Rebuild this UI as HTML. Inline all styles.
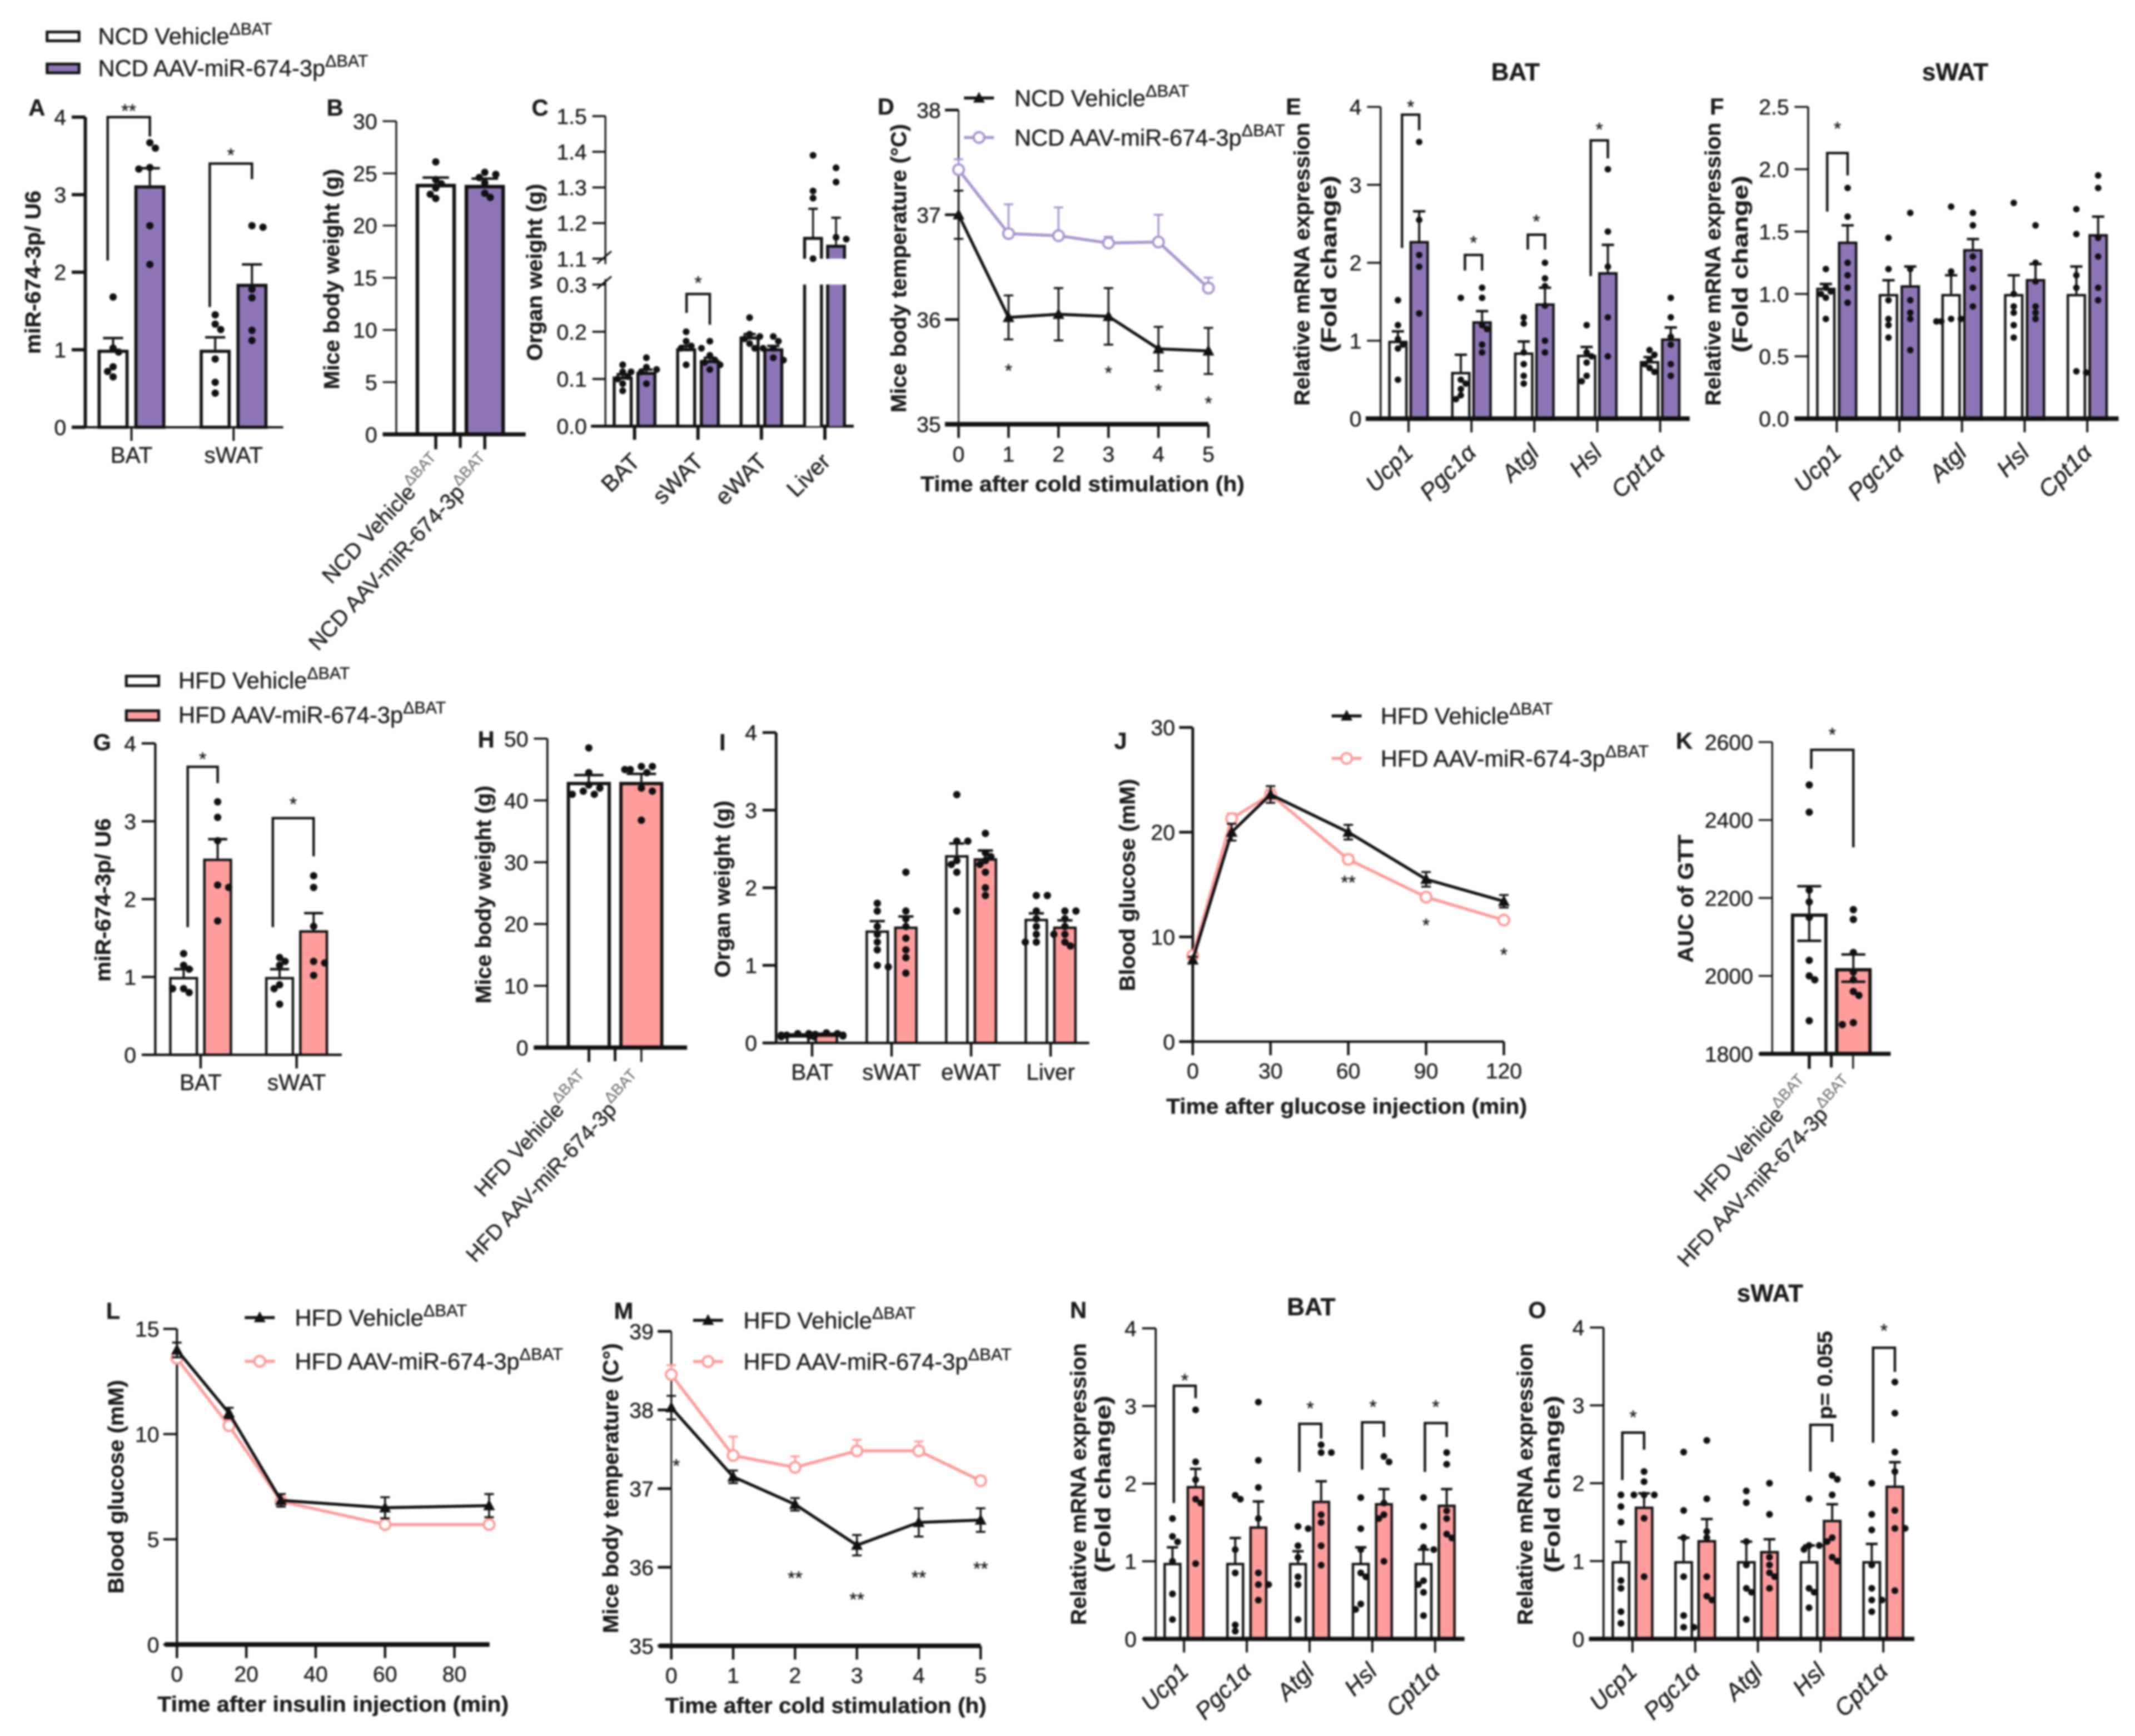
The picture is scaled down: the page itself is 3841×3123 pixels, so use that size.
<!DOCTYPE html>
<html lang="en">
<head>
<meta charset="utf-8">
<title>miR-674-3p BAT figure</title>
<style>
html,body{margin:0;padding:0;background:#fff;}
svg{display:block;filter:blur(1.6px);}
text{font-family:"Liberation Sans",Arial,sans-serif;fill:#1c1c1c;stroke:#1c1c1c;stroke-width:.18px;}
</style>
</head>
<body>
<svg id="fig" xmlns="http://www.w3.org/2000/svg" width="3841" height="3123" viewBox="0 0 1568 1275"></svg>
<script>
/* ---------- DATA ---------- */
const organs2 = ['BAT','sWAT'];
const organs4 = ['BAT','sWAT','eWAT','Liver'];
const genes = ['Ucp1','Pgc1α','Atgl','Hsl','Cpt1α'];
const oneGroup = [''];

/* A */
const aTicks=[0,1,2,3,4];
const aVehMeans=[1,1];const aVehErr=[.15,.16];
const aAavMeans=[3.12,1.85];const aAavErr=[.22,.25];
const aVehPts=[[1.68,1.02,.78,.72,.65,.97],[1.45,1.33,1.26,.88,.58,.44]];
const aAavPts=[[3.67,3.6,3.35,3.33,2.6,2.1],[2.6,2.58,1.78,1.67,1.25,1.12]];
const aBrackets=[[0,4,2.15,3.75,'**',4.12],[1,3.4,1.55,3.2,'*',3.55]];
/* B */
const bTicks=[0,5,10,15,20,25,30];
const bVehMeans=[24];const bVehErr=[.6];const bAavMeans=[23.9];const bAavErr=[.6];
const bVehPts=[[26.1,24.4,24,23.6,23,22.6]];
const bAavPts=[[25.1,24.9,24.6,24.1,23.1,22.7]];
/* C */
const cTicks=[0,.1,.2,.3,1.1,1.2,1.3,1.4,1.5];
const cVehMeans=[.105,.165,.19,1.157];const cVehErr=[.005,.005,.005,.083];
const cAavMeans=[.115,.14,.165,1.135];const cAavErr=[.005,.005,.005,.08];
const cVehPts=[[.13,.115,.105,.1,.09,.075],[.2,.18,.17,.165,.165,.13],[.23,.195,.19,.185,.175,.165]];
const cAavPts=[[.145,.125,.12,.115,.115,.09],[.18,.15,.14,.135,.13,.12],[.19,.18,.165,.165,.145,.14]];
const cLiverVehPts=[1.39,1.29,1.27,1.1];
const cLiverAavPts=[1.355,1.315,1.16,1.155];
const cBrackets=[[1,.28,.24,.215,'*',.31]];
/* D */
const dTicksY=[35,36,37,38];const dTime=[0,1,2,3,4,5];
const dVehMeans=[37,36.02,36.05,36.03,35.72,35.7];const dVehErr=[.23,.21,.25,.27,.21,.22];
const dAavMeans=[37.43,36.82,36.8,36.73,36.74,36.3];const dAavErr=[.1,.28,.27,.06,.26,.1];
const dStarTimes=[1,3,4,5];const dStarVals=[35.54,35.52,35.35,35.23];const dStarText=['*','*','*','*'];
/* E */
const eTicks=[0,1,2,3,4];
const eVehMeans=[1,.6,.85,.82,.74];const eVehErr=[.12,.22,.14,.1,.05];
const eAavMeans=[2.28,1.25,1.48,1.88,1.03];const eAavErr=[.38,.13,.2,.35,.14];
const eVehPts=[[1.52,1.2,1.02,.95,.9,.5],[1.55,.5,.45,.38,.3,.25],[1.3,1.22,.85,.7,.55,.45],[1.2,.85,.8,.72,.55,.48],[.88,.82,.75,.7,.65,.6]];
const eAavPts=[[3.55,2.55,2.1,1.95,1.35],[1.68,1.55,1.2,1.15,.95,.85],[2,1.8,1.7,1.45,1,.85],[3.2,2.4,1.95,1.3,.8],[1.55,1.3,1.05,.95,.7,.55]];
const eBrackets=[[0,3.9,2.19,3.7,'*',4.04],[1,2.1,1.9,1.9,'*',2.3],[2,2.36,2.17,2.17,'*',2.57],[3,3.57,1.83,3.34,'*',3.75]];
/* F */
const fTicks=[0,.5,1,1.5,2,2.5];
const fVehMeans=[1.05,1,1,1,1];const fVehErr=[.03,.11,.15,.15,.22];
const fAavMeans=[1.42,1.07,1.36,1.12,1.48];const fAavErr=[.13,.15,.08,.12,.14];
const fVehPts=[[1.2,1.05,1.02,1,.97,.8],[1.45,1.2,.95,.8,.75,.65],[1.7,1.18,.8,.78,.8,.78],[1.73,1,.9,.85,.75,.65],[1.68,1.48,1.15,1.05,.38,.37]];
const fAavPts=[[1.85,1.62,1.25,1.15,1.05,.93],[1.65,1.2,.95,.85,.8,.55],[1.65,1.55,1.3,1.2,1.05,.9],[1.55,1.25,1.1,.9,.85,.8],[1.95,1.85,1.45,1.3,1.05,.95]];
const fBrackets=[[0,2.13,1.66,1.95,'*',2.35]];
/* G */
const gTicks=[0,1,2,3,4];
const gVehMeans=[1,1];const gVehErr=[.1,.1];const gAavMeans=[2.52,1.6];const gAavErr=[.25,.22];
const gVehPts=[[1.3,1.15,1.1,.85,.85,.8],[1.25,1.2,1.15,.9,.85,.65]];
const gAavPts=[[3.25,3.05,2.75,2.18,2.15,1.72],[2.3,2.15,1.65,1.2,1.18,1.02]];
const gBrackets=[[0,3.7,1.64,3.49,'*',3.84,-3],[1,3.04,1.64,2.55,'*',3.26,5]];
/* H */
const hTicks=[0,10,20,30,40,50];
const hVehMeans=[43];const hVehErr=[1.1];const hAavMeans=[43];const hAavErr=[1.3];
const hVehPts=[[48.5,44.5,42.5,42,41.5,41,41]];
const hAavPts=[[45.5,45.5,45,45,44.5,42,41.5,36.8]];
/* I */
const iTicks=[0,1,2,3,4];
const iVehMeans=[.1,1.45,2.42,1.6];const iVehErr=[.01,.12,.15,.07];
const iAavMeans=[.11,1.5,2.38,1.5];const iAavErr=[.01,.13,.1,.08];
const iVehPts=[[.12,.1,.1,.09,.08,.08,.12],[1.8,1.7,1.5,1.4,1.3,1.2,1,.98],[3.2,2.6,2.6,2.35,2.3,2.2,1.7],[1.9,1.9,1.7,1.6,1.5,1.4,1.3,1.3]];
const iAavPts=[[.13,.11,.11,.1,.09,.09,.12],[2.2,1.7,1.6,1.5,1.35,1.2,1.1,.9],[2.7,2.45,2.4,2.35,2.3,2.2,2,1.9],[1.7,1.7,1.6,1.5,1.4,1.4,1.3,1.25]];
/* J */
const jTicksY=[0,10,20,30];const jTicksX=[0,30,60,90,120];const jTime=[0,15,30,60,90,120];
const jVehMeans=[7.8,20,23.6,20,15.5,13.4];const jVehErr=[.3,.8,.8,.7,.7,.6];
const jAavMeans=[8.2,21.3,23.6,17.4,13.8,11.6];const jAavErr=[.3,.5,.5,.4,.3,.3];
const jStarTimes=[60,90,120];const jStarVals=[15.5,11.4,8.6];const jStarText=['**','*','*'];
/* K */
const kTicks=[1800,2000,2200,2400,2600];
const kVehMeans=[2160];const kVehErr=[70];const kAavMeans=[2020];const kAavErr=[35];
const kVehPts=[[2490,2420,2220,2190,2150,2040,2000,1990,1885]];
const kAavPts=[[2170,2145,2060,2010,1990,1960,1950,1880,1875]];
const kBrackets=[[0,2580,2531,2330,'*',2627]];
/* L */
const lTicksY=[0,5,10,15];const lTicksX=[0,20,40,60,80];const lTime=[0,15,30,60,90];
const lVehMeans=[14,11,6.85,6.5,6.6];const lVehErr=[.35,.25,.3,.5,.55];
const lAavMeans=[13.6,10.4,6.8,5.7,5.7];const lAavErr=[.2,.15,.2,.1,.1];
/* M */
const mTicksY=[35,36,37,38,39];const mTime=[0,1,2,3,4,5];
const mVehMeans=[38.03,37.15,36.8,36.28,36.57,36.6];const mVehErr=[.15,.08,.08,.13,.18,.15];
const mAavMeans=[38.45,37.42,37.27,37.48,37.48,37.1];const mAavErr=[.12,.24,.14,.14,.12,.05];
const mStarTimes=[.08,2,3,4,5];const mStarVals=[37.33,35.9,35.63,35.91,36.02];const mStarText=['*','**','**','**','**'];
/* N */
const nTicks=[0,1,2,3,4];
const nVehMeans=[.98,.98,.98,.98,.98];const nVehErr=[.2,.32,.15,.2,.17];
const nAavMeans=[1.97,1.45,1.78,1.75,1.73];const nAavErr=[.22,.32,.25,.18,.2];
const nVehPts=[[1.55,1.32,1.25,1,.58,.25],[1.85,1.8,1.15,.85,.18,.1],[1.45,1.42,1.2,1.05,.8,.7,.25],[1.82,1.42,1.15,.85,.8,.45,.38],[1.82,1.45,1.18,1.15,.75,.7,.6,.3]];
const nAavPts=[[2.95,2.28,2.05,1.8,1.75,.97],[3.05,2.3,1.95,1.55,.85,.7,.7,.5],[2.5,2.4,2.4,1.6,1.5,1.2,.95],[2.35,2.28,1.75,1.6,1.55,1],[2.4,2.25,1.65,1.55,1.35,1.3]];
const nBrackets=[[0,3.26,1.75,3.1,'*',3.37],[2,2.77,2.15,2.58,'*',3.01],[3,2.79,2.18,2.6,'*',3.03],[4,2.78,2.15,2.6,'*',3.03]];
/* O */
const oTicks=[0,1,2,3,4];
const oVehMeans=[1,1,1,1,1];const oVehErr=[.25,.3,.25,.2,.22];
const oAavMeans=[1.7,1.27,1.13,1.53,1.97];const oAavErr=[.17,.27,.15,.2,.3];
const oVehPts=[[1.85,1.7,1.5,.75,.65,.35,.2],[2.4,1.65,1.3,.8,.3,.15,.15],[1.9,1.75,1.25,.95,.65,.6,.25],[1.8,1.2,1.2,1.15,.65,.6,.4],[2,1.6,1.4,.95,.65,.5,.5,.35]];
const oAavPts=[[2.15,2.02,1.85,1.85,1.85,1.55,.8],[2.55,1.8,1.38,1.3,.8,.55,.5],[2,1.6,1.05,.95,.85,.8,.65],[2.1,2.05,1.85,1.3,1.25,1.05,1],[3.3,2.9,2.4,2.15,1.65,1.42,1.42,.62]];
const oBrackets=[[0,2.65,2.04,2.43,'*',2.89],[3,2.75,2.15,2.53,'',0],[4,3.74,2.52,3.43,'*',4]];

/* ---------- HELPERS ---------- */
const NS='http://www.w3.org/2000/svg';
const fig=document.getElementById('fig');
const INK='#111';
const PURPLE='#8e75b7',PURPLE_LINE='#a896cf',PINK='#ff9d9d',PINK_LINE='#f99';

function mk(tag,attrs,parent,name){
  const node=document.createElementNS(NS,tag);
  for(const k in attrs)node.setAttribute(k,attrs[k]);
  
  
  parent.appendChild(node);
  return node;
}
function line(p,x1,y1,x2,y2,w,name,color){
  return mk('line',{x1,y1,x2,y2,stroke:color||INK,'stroke-width':w},p,name);
}
function txt(p,x,y,s,o,name){
  o=o||{};
  const a={x,y,'font-size':o.size||16,'text-anchor':o.anchor||'start'};
  if(o.bold)a['font-weight']='bold';
  if(o.italic)a['font-style']='italic';
  if(o.rotate!==undefined)a.transform='rotate('+o.rotate+' '+x+' '+y+')';
  if(o.len){a.textLength=o.len;a.lengthAdjust='spacingAndGlyphs';}
  const t=mk('text',a,p,name);
  t.appendChild(document.createTextNode(s));
  if(o.sup){
    const u=document.createElementNS(NS,'tspan');
    u.setAttribute('dy',o.supDy||-6);
    u.setAttribute('font-size',o.supSize||12.2);
    if(o.supColor){u.setAttribute('fill',o.supColor);u.setAttribute('stroke','none');}
    u.textContent=o.sup;
    t.appendChild(u);
  }
  return t;
}
function linScale(d0,d1,p0,p1){return v=>p0+(v-d0)*(p1-p0)/(d1-d0);}
function slug(s){return String(s).toLowerCase().replace(/[^a-z0-9]+/g,'-').replace(/(^-|-$)/g,'')||'group';}
function swarm(vals,y,r){
  const placed=[],out=[];
  const sorted=vals.slice().sort((a,b)=>b-a);
  let side=1;
  sorted.forEach(v=>{
    const py=y(v);
    const step=r*1.5;
    const cands=[0,side*step,-side*step,side*2*step,-side*2*step,side*3*step,-side*3*step];
    let off=cands[cands.length-1];
    for(const c of cands){
      if(placed.every(q=>Math.hypot(q.x-c,q.y-py)>=r*1.75)){off=c;break;}
    }
    if(off!==0)side=-side;
    placed.push({x:off,y:py});
    out.push({v,off,py});
  });
  return out;
}
function yAxis(g,c,y){
  line(g,c.axisX,y(c.ticks[0]),c.axisX,y(c.ticks[c.ticks.length-1]),c.yW,'y-axis-line');
  c.ticks.forEach(t=>{
    line(g,c.axisX-(c.tickLen||10),y(t),c.axisX,y(t),c.yTickW||c.yW,'y-axis-tick');
    txt(g,c.axisX-(c.labGap||14),y(t)+5.7,t.toFixed(c.dec||0),{anchor:'end',size:16},'y-tick-label');
  });
}
function star(g,x,py,s,name){txt(g,x,py+7,s,{anchor:'middle',size:14},name);}
function axisTitles(g,c){
  (c.yTitles||[]).forEach(t=>txt(g,t[0],t[1],t[2],{bold:true,anchor:'middle',rotate:-90,len:t[3],size:16},'y-axis-title'));
  if(c.xTitle)txt(g,c.xTitle[0],c.xTitle[1],c.xTitle[2],{bold:true,anchor:'middle',len:c.xTitle[3],size:16},'x-axis-title');
  if(c.letter)txt(g,c.letter[0],c.letter[1],c.letter[2],{bold:true,anchor:'middle',size:17},'panel-letter');
  if(c.heading)txt(g,c.heading[0],c.heading[1],c.heading[2],{bold:true,anchor:'middle',size:18},'panel-heading');
}

/* ---------- BAR PANEL ---------- */
function barPanel(c){
  const g=mk('g',{},fig,'panel-'+c.id);
  const y=c.scale||linScale(c.ticks[0],c.ticks[c.ticks.length-1],c.yBottom,c.yTop);
  const cx=i=>c.cx0+i*c.gap;
  if(c.customAxis)c.customAxis(g,y);else yAxis(g,c,y);
  const r=c.r||2.7;
  function bar(i,which){
    const isV=which==='vehicle';
    const means=isV?c.vMeans:c.aMeans,errs=isV?c.vErr:c.aErr,pts=isV?c.vPts:c.aPts;
    const x=cx(i)+(isV?-c.off:c.off);
    const fill=isV?'#fff':c.fill;
    const tag=c.id+'-'+slug(c.cats[i])+'-'+which;
    const base=y(c.ticks[0]);
    const sw=c.barW||2.3;
    const m=means[i],e=errs[i];
    const top=y(m)+sw/2;
    mk('rect',{x:x-c.w/2,y:top,width:c.w,height:base-top,fill,stroke:INK,'stroke-width':sw},g,'bar-'+tag);
    const capW=c.capW||c.w*0.36;
    const eUp=y(m+e),eDn=y(m-e);
    line(g,x,y(m),x,eUp,1.6,'error-bar-'+tag);
    line(g,x-capW,eUp,x+capW,eUp,1.8,'error-cap-'+tag);
    if(c.bothErr){
      line(g,x,y(m),x,eDn,1.6,'error-bar-'+tag);
      line(g,x-capW,eDn,x+capW,eDn,1.8,'error-cap-'+tag);
    }
    swarm(pts[i],y,r).forEach(p=>{
      mk('circle',{cx:x+p.off,cy:p.py,r,fill:INK},g,'data-point-'+tag);
    });
  }
  c.cats.forEach((n,i)=>{bar(i,'vehicle');bar(i,'aav');});
  /* x axis */
  line(g,c.xStart,c.yBottom,c.xEnd,c.yBottom,c.xW,'x-axis-line');
  c.cats.forEach((n,i)=>{
    line(g,cx(i),c.yBottom,cx(i),c.yBottom+(c.xTickLen||10),c.xTickW||2,'x-axis-tick');
    if(c.labels==='flat')txt(g,cx(i),c.yBottom+(c.labDy||27),n,{anchor:'middle',size:c.labSize||16.5},'x-tick-label');
    if(c.labels==='rot')txt(g,cx(i)+(c.rotDx||5),c.yBottom+(c.rotDy||26),n,{anchor:'end',size:c.labSize||17.5,italic:c.italic,rotate:c.rotA||-45},'x-tick-label');
    if(c.labels==='group'){
      c.groupLabels.forEach((nm,k)=>{
        const px=c.cx0+(k===0?-c.off:c.off);
        txt(g,px+c.rotDx,c.yBottom+c.rotDy,nm,{anchor:'end',size:c.labSize||15.8,rotate:-47,sup:'ΔBAT',supColor:'#666',supSize:11.5,supDy:-7},'x-tick-label');
      });
    }
  });
  if(c.labels==='group'&&c.groupTicks)c.groupTicks(g);
  /* brackets: [category, top value, left leg bottom, right leg bottom, label, label value, optional left inset] */
  (c.brackets||[]).forEach(b=>{
    const inset=b[6]!==undefined?b[6]:(c.brL===undefined?3:c.brL);
    const xl=cx(b[0])-c.off-inset;
    const xr=cx(b[0])+c.off;
    mk('path',{d:'M'+xl+' '+y(b[2])+'V'+y(b[1])+'H'+xr+'V'+y(b[3]),fill:'none',stroke:INK,'stroke-width':c.brW||1.8},g,'significance-bracket');
    if(b[4])star(g,(xl+xr)/2,y(b[5]),b[4],'significance-star');
  });
  axisTitles(g,c);
  return g;
}

/* ---------- LINE PANEL ---------- */
function linePanel(c){
  const g=mk('g',{},fig,'panel-'+c.id);
  const y=linScale(c.ticks[0],c.ticks[c.ticks.length-1],c.yBottom,c.yTop);
  const x=linScale(c.xD0,c.xD1,c.axisX,c.xP1);
  yAxis(g,c,y);
  line(g,c.xStart,c.yBottom,c.xEnd,c.yBottom,c.xW,'x-axis-line');
  c.xTicks.forEach(t=>{
    line(g,x(t),c.yBottom,x(t),c.yBottom+10,c.xTickW||1.8,'x-axis-tick');
    txt(g,x(t),c.xLabY,String(t),{anchor:'middle',size:16},'x-tick-label');
  });
  function series(means,errs,color,name,both,isTri){
    const pts=c.time.map((t,i)=>x(t)+','+y(means[i])).join(' ');
    c.time.forEach((t,i)=>{
      const px=x(t),up=y(means[i]+errs[i]),dn=y(means[i]-errs[i]);
      line(g,px,both?dn:y(means[i]),px,up,1.4,'error-bar-'+name,color);
      line(g,px-3.5,up,px+3.5,up,1.4,'error-cap-'+name,color);
      if(both)line(g,px-3.5,dn,px+3.5,dn,1.4,'error-cap-'+name,color);
    });
    mk('polyline',{points:pts,fill:'none',stroke:color,'stroke-width':2.2,'stroke-linejoin':'round'},g,'line-'+name);
    c.time.forEach((t,i)=>{
      const px=x(t),py=y(means[i]);
      if(isTri)mk('path',{d:'M'+px+' '+(py-4.6)+'L'+(px+4.3)+' '+(py+3.4)+'H'+(px-4.3)+'Z',fill:color},g,'marker-'+name);
      else mk('circle',{cx:px,cy:py,r:3.9,fill:'#fff',stroke:color,'stroke-width':1.7},g,'marker-'+name);
    });
  }
  series(c.aMeans,c.aErr,c.aColor,'aav',c.aBoth,false);
  series(c.vMeans,c.vErr,INK,'vehicle',true,true);
  (c.starT||[]).forEach((t,i)=>star(g,x(t),y(c.starV[i]),c.starS[i],'significance-star'));
  /* legend */
  const L=c.legend;
  const lg=mk('g',{},g,'legend');
  line(lg,L.x-11,L.y1,L.x+11,L.y1,2.2,'legend-line-vehicle');
  mk('path',{d:'M'+L.x+' '+(L.y1-4.6)+'L'+(L.x+4.3)+' '+(L.y1+3.4)+'H'+(L.x-4.3)+'Z',fill:INK},lg,'legend-marker-vehicle');
  txt(lg,L.tx,L.y1+6,c.names[0],{size:17,sup:'ΔBAT',supSize:12.6,supDy:-7},'legend-label-vehicle');
  line(lg,L.x-11,L.y2,L.x+11,L.y2,2.2,'legend-line-aav',c.aColor);
  mk('circle',{cx:L.x,cy:L.y2,r:3.9,fill:'#fff',stroke:c.aColor,'stroke-width':1.7},lg,'legend-marker-aav');
  txt(lg,L.tx,L.y2+6,c.names[1],{size:17,sup:'ΔBAT',supSize:12.6,supDy:-7},'legend-label-aav');
  axisTitles(g,c);
}

function boxLegend(x1,x2,tx,y1,y2,h,names,fill,id){
  const g=mk('g',{},fig,'legend-'+id);
  mk('rect',{x:x1,y:y1,width:x2-x1,height:h,fill:'#fff',stroke:INK,'stroke-width':2},g,'legend-swatch-vehicle');
  mk('rect',{x:x1,y:y2,width:x2-x1,height:h,fill,stroke:INK,'stroke-width':2},g,'legend-swatch-aav');
  txt(g,tx,y1+9,names[0],{size:17,sup:'ΔBAT',supSize:12.4,supDy:-7},'legend-label-vehicle');
  txt(g,tx,y2+9,names[1],{size:17,sup:'ΔBAT',supSize:12.4,supDy:-7},'legend-label-aav');
}

/* ---------- LEGENDS ---------- */
boxLegend(34.5,58,72,23.5,47,6.5,['NCD Vehicle','NCD AAV-miR-674-3p'],PURPLE,'ncd');
boxLegend(92.7,116.5,131,496.6,522,7,['HFD Vehicle','HFD AAV-miR-674-3p'],PINK,'hfd');

/* ---------- PANELS ---------- */
barPanel({id:'a',axisX:62.6,yBottom:313.8,yTop:86,ticks:aTicks,xStart:53,xEnd:208,xW:1.6,yW:2.4,xTickW:1.6,cats:organs2,cx0:96.5,gap:75,off:13.5,w:20.5,fill:PURPLE,
  vMeans:aVehMeans,vErr:aVehErr,aMeans:aAavMeans,aErr:aAavErr,vPts:aVehPts,aPts:aAavPts,brackets:aBrackets,brW:1.8,brL:4,labels:'flat',labDy:26,
  yTitles:[[29.5,200,'miR-674-3p/ U6',120]],letter:[27,85,'A']});
barPanel({id:'b',axisX:291,yBottom:319,yTop:89,ticks:bTicks,xStart:281,xEnd:386,xW:3,yW:1.3,xTickW:2.2,cats:oneGroup,cx0:338,gap:0,off:18,w:27,fill:PURPLE,
  vMeans:bVehMeans,vErr:bVehErr,aMeans:bAavMeans,aErr:bAavErr,vPts:bVehPts,aPts:bAavPts,barW:2.6,bothErr:false,labels:'group',groupLabels:['NCD Vehicle','NCD AAV-miR-674-3p'],rotDx:6,rotDy:22,labSize:16.2,xTickLen:0,
  groupTicks:g=>{line(g,320,319,320,330,2.2,'x-axis-tick');line(g,356,319,356,330,2.2,'x-axis-tick');},
  yTitles:[[249,205,'Mice body weight (g)',162]],letter:[246,85,'B']});
const cUpper=linScale(1.1,1.5,190,85.3),cLower=linScale(0,.3,313,209);
barPanel({id:'c',axisX:444.6,yBottom:313,yTop:85.3,ticks:cTicks,scale:v=>v>.7?cUpper(v):cLower(v),dec:1,xStart:434,xEnd:627,xW:2.2,yW:1.3,xTickW:2.4,cats:organs4.slice(0,3),cx0:466,gap:46.6,off:8.7,w:12.5,fill:PURPLE,r:2.5,
  vMeans:cVehMeans,vErr:cVehErr,aMeans:cAavMeans,aErr:cAavErr,vPts:cVehPts,aPts:cAavPts,brackets:cBrackets,brW:1.8,brL:-.3,barW:2.2,labels:'rot',rotDx:5,rotDy:27,labSize:17,
  customAxis:(g,y)=>{
    line(g,444.6,313,444.6,205,1.3,'y-axis-line');
    line(g,444.6,194,444.6,85.3,1.3,'y-axis-line');
    line(g,438.5,193.5,449,184.5,1.3,'axis-break-mark');
    line(g,438.5,212,449,203,1.3,'axis-break-mark');
    cTicks.forEach(t=>{
      line(g,435,y(t),444.6,y(t),1.5,'y-axis-tick');
      txt(g,431,y(t)+5.7,t.toFixed(1),{anchor:'end',size:16},'y-tick-label');
    });
  },
  yTitles:[[398,200,'Organ weight (g)',130]],letter:[396.6,85,'C']});
/* Liver group of C sits across the axis break */
(function(){
  const g=mk('g',{},fig,'panel-c-liver');
  const y=v=>v>.7?cUpper(v):cLower(v);
  const cx=605.8;
  [[-8.7,'#fff',cVehMeans[3],cVehErr[3],cLiverVehPts,'vehicle'],[8.2,PURPLE,cAavMeans[3],cAavErr[3],cLiverAavPts,'aav']].forEach(s=>{
    const x=cx+s[0],w=6.2;
    mk('rect',{x:x-w,y:209,width:w*2,height:104,fill:s[1]},g,'bar-c-liver-lower-'+s[5]);
    mk('path',{d:'M'+(x-w)+' 313V209M'+(x+w)+' 313V209',stroke:INK,'stroke-width':2.2,fill:'none'},g,'bar-c-liver-lower-edges-'+s[5]);
    mk('path',{d:'M'+(x-w)+' 190V'+y(s[2])+'H'+(x+w)+'V190',stroke:INK,'stroke-width':2.2,fill:s[1]},g,'bar-c-liver-upper-'+s[5]);
    line(g,x,y(s[2]),x,y(s[2]+s[3]),1.4,'error-bar-c-liver-'+s[5]);
    line(g,x-3.5,y(s[2]+s[3]),x+3.5,y(s[2]+s[3]),1.6,'error-cap-c-liver-'+s[5]);
    swarm(s[4],y,2.5).forEach(p=>{
      mk('circle',{cx:x+p.off,cy:p.py,r:2.5,fill:INK},g,'data-point-c-liver-'+s[5]);
    });
  });
  line(g,cx,313,cx,323,2.4,'x-axis-tick');
  txt(g,cx+5,340,organs4[3],{anchor:'end',size:17,rotate:-45},'x-tick-label');
})();
linePanel({id:'d',axisX:704,yBottom:311.6,yTop:80.8,ticks:dTicksY,xStart:694,xEnd:887.5,xW:3.4,yW:1.1,yTickW:2,time:dTime,xTicks:dTime,xD0:0,xD1:5,xP1:887.5,xLabY:339,labGap:13,
  vMeans:dVehMeans,vErr:dVehErr,aMeans:dAavMeans,aErr:dAavErr,aColor:PURPLE_LINE,aBoth:false,starT:dStarTimes,starV:dStarVals,starS:dStarText,
  legend:{x:719,y1:72,y2:101,tx:745},names:['NCD Vehicle','NCD AAV-miR-674-3p'],
  xTitle:[795,361,'Time after cold stimulation (h)',238],yTitles:[[665.5,197,'Mice body temperature (°C)',212]],letter:[650.6,84,'D']});
barPanel({id:'e',axisX:1014,yBottom:307.5,yTop:78.5,ticks:eTicks,xStart:1003,xEnd:1241,xW:3.4,yW:1.4,xTickW:1.6,cats:genes,cx0:1034.5,gap:46.2,off:7.8,w:12.5,fill:PURPLE,r:2.4,
  vMeans:eVehMeans,vErr:eVehErr,aMeans:eAavMeans,aErr:eAavErr,vPts:eVehPts,aPts:eAavPts,brackets:eBrackets,brW:1.8,brL:-3,barW:1.8,labels:'rot',italic:true,rotDx:4.5,rotDy:26,
  yTitles:[[961.5,194,'Relative mRNA expression',208],[981.5,194,'(Fold change)',130]],letter:[950,84,'E'],heading:[1113,59,'BAT']});
barPanel({id:'f',axisX:1328,yBottom:307.5,yTop:78.5,ticks:fTicks,dec:1,xStart:1318,xEnd:1556,xW:3.4,yW:1.4,xTickW:1.6,cats:genes,cx0:1349,gap:46,off:8,w:12.5,fill:PURPLE,r:2.4,
  vMeans:fVehMeans,vErr:fVehErr,aMeans:fAavMeans,aErr:fAavErr,vPts:fVehPts,aPts:fAavPts,brackets:fBrackets,brW:1.8,brL:-1,barW:1.8,labels:'rot',italic:true,rotDx:4.5,rotDy:26,
  yTitles:[[1263.5,194,'Relative mRNA expression',208],[1283.5,194,'(Fold change)',130]],letter:[1261,84,'F'],heading:[1436,59,'sWAT']});
barPanel({id:'g',axisX:114,yBottom:774.7,yTop:546,ticks:gTicks,xStart:105,xEnd:251,xW:1.8,yW:1.7,xTickW:1.8,cats:organs2,cx0:147.3,gap:70.5,off:12.5,w:19.5,fill:PINK,
  vMeans:gVehMeans,vErr:gVehErr,aMeans:gAavMeans,aErr:gAavErr,vPts:gVehPts,aPts:gAavPts,brackets:gBrackets,brW:1.8,brL:-3,barW:1.8,labels:'flat',labDy:26,
  yTitles:[[81,661,'miR-674-3p/ U6',120]],letter:[75,551,'G']});
barPanel({id:'h',axisX:402,yBottom:769.4,yTop:542.5,ticks:hTicks,xStart:392,xEnd:504.6,xW:3.2,yW:1.5,cats:oneGroup,cx0:451.7,gap:0,off:19.3,w:30,fill:PINK,barW:2.4,
  vMeans:hVehMeans,vErr:hVehErr,aMeans:hAavMeans,aErr:hAavErr,vPts:hVehPts,aPts:hAavPts,labels:'group',groupLabels:['HFD Vehicle','HFD AAV-miR-674-3p'],rotDx:2.5,rotDy:25,xTickLen:0,
  groupTicks:g=>{line(g,432.5,769.4,432.5,780,2,'x-axis-tick');line(g,471,769.4,471,780,1.4,'x-axis-tick');},
  yTitles:[[360.5,657,'Mice body weight (g)',160]],letter:[357,549,'H']});
barPanel({id:'i',axisX:570,yBottom:766,yTop:538,ticks:iTicks,xStart:560,xEnd:800,xW:1.8,yW:2,xTickW:1.8,cats:organs4,cx0:596.4,gap:58.4,off:10.5,w:15.5,fill:PINK,
  vMeans:iVehMeans,vErr:iVehErr,aMeans:iAavMeans,aErr:iAavErr,vPts:iVehPts,aPts:iAavPts,barW:1.8,labels:'flat',labDy:27,
  yTitles:[[536,653,'Organ weight (g)',130]],letter:[530.6,551,'I']});
linePanel({id:'j',axisX:876,yBottom:765,yTop:534.3,ticks:jTicksY,xStart:866,xEnd:1104.5,xW:1.8,yW:2,time:jTime,xTicks:jTicksX,xD0:0,xD1:120,xP1:1104.5,xLabY:792,labGap:13,
  vMeans:jVehMeans,vErr:jVehErr,aMeans:jAavMeans,aErr:jAavErr,aColor:PINK_LINE,aBoth:true,starT:jStarTimes,starV:jStarVals,starS:jStarText,
  legend:{x:989,y1:525.8,y2:557,tx:1014},names:['HFD Vehicle','HFD AAV-miR-674-3p'],
  xTitle:[989,818,'Time after glucose injection (min)',265],yTitles:[[833.5,650,'Blood glucose (mM)',156]],letter:[823,550,'J']});
barPanel({id:'k',axisX:1301.6,yBottom:774,yTop:545,ticks:kTicks,xStart:1292,xEnd:1388.6,xW:3,yW:1.3,cats:oneGroup,cx0:1345,gap:0,off:16.2,w:24.5,fill:PINK,barW:2.4,bothErr:true,
  vMeans:kVehMeans,vErr:kVehErr,aMeans:kAavMeans,aErr:kAavErr,vPts:kVehPts,aPts:kAavPts,brackets:kBrackets,brW:1.8,brL:-1.5,labels:'group',groupLabels:['HFD Vehicle','HFD AAV-miR-674-3p'],rotDx:2,rotDy:24,xTickLen:0,
  groupTicks:g=>{line(g,1328.8,774,1328.8,785,2.2,'x-axis-tick');line(g,1361,774,1361,785,1.3,'x-axis-tick');},
  yTitles:[[1243.5,660,'AUC of GTT',94]],letter:[1237,550,'K']});
linePanel({id:'l',axisX:129.9,yBottom:1207.8,yTop:976,ticks:lTicksY,xStart:121,xEnd:359.5,xW:3.4,yW:1.6,time:lTime,xTicks:lTicksX,xD0:0,xD1:80,xP1:333.7,xLabY:1235,labGap:13,
  vMeans:lVehMeans,vErr:lVehErr,aMeans:lAavMeans,aErr:lAavErr,aColor:PINK_LINE,aBoth:false,
  legend:{x:190.7,y1:967.7,y2:999.8,tx:216.5},names:['HFD Vehicle','HFD AAV-miR-674-3p'],
  xTitle:[244.6,1257,'Time after insulin injection (min)',258],yTitles:[[90.5,1092,'Blood glucose (mM)',157]],letter:[83,968.5,'L']});
linePanel({id:'m',axisX:493,yBottom:1208.8,yTop:977.8,ticks:mTicksY,xStart:484,xEnd:720.2,xW:3.4,yW:1.2,yTickW:2,time:mTime,xTicks:mTime,xD0:0,xD1:5,xP1:720.2,xLabY:1236,labGap:13,
  vMeans:mVehMeans,vErr:mVehErr,aMeans:mAavMeans,aErr:mAavErr,aColor:PINK_LINE,aBoth:false,starT:mStarTimes,starV:mStarVals,starS:mStarText,
  legend:{x:520,y1:969.7,y2:1000,tx:546},names:['HFD Vehicle','HFD AAV-miR-674-3p'],
  xTitle:[606.5,1258,'Time after cold stimulation (h)',236],yTitles:[[454,1093,'Mice body temperature (C°)',213]],letter:[458,968.5,'M']});
barPanel({id:'n',axisX:848.8,yBottom:1203.7,yTop:975.6,ticks:nTicks,xStart:839.6,xEnd:1075.6,xW:3.2,yW:1.5,xTickW:1.6,cats:genes,cx0:869.6,gap:46.1,off:8.5,w:11.5,fill:PINK,r:2.5,
  vMeans:nVehMeans,vErr:nVehErr,aMeans:nAavMeans,aErr:nAavErr,vPts:nVehPts,aPts:nAavPts,brackets:nBrackets,brW:1.8,brL:-1,barW:1.8,labels:'rot',italic:true,rotDx:4.5,rotDy:25,
  yTitles:[[797.5,1090,'Relative mRNA expression',207],[815.5,1090,'(Fold change)',130]],letter:[792,968,'N'],heading:[963,966,'BAT']});
barPanel({id:'o',axisX:1177.7,yBottom:1203.7,yTop:975,ticks:oTicks,xStart:1167,xEnd:1406,xW:3.2,yW:1.5,xTickW:1.6,cats:genes,cx0:1199,gap:46.05,off:8.5,w:12,fill:PINK,r:2.5,
  vMeans:oVehMeans,vErr:oVehErr,aMeans:oAavMeans,aErr:oAavErr,vPts:oVehPts,aPts:oAavPts,brackets:oBrackets,brW:1.8,brL:-1,barW:1.8,labels:'rot',italic:true,rotDx:4.5,rotDy:25,
  yTitles:[[1125.5,1090,'Relative mRNA expression',207],[1145.5,1090,'(Fold change)',130]],letter:[1129,968,'O'],heading:[1300,956,'sWAT']});
(function(){
  const g=mk('g',{},fig,'p-value-annotation');
  txt(g,1345.5,1010,'p= 0.055',{anchor:'middle',bold:true,size:15,rotate:-90,len:65},'p-value-label');
})();
</script>
</body>
</html>
